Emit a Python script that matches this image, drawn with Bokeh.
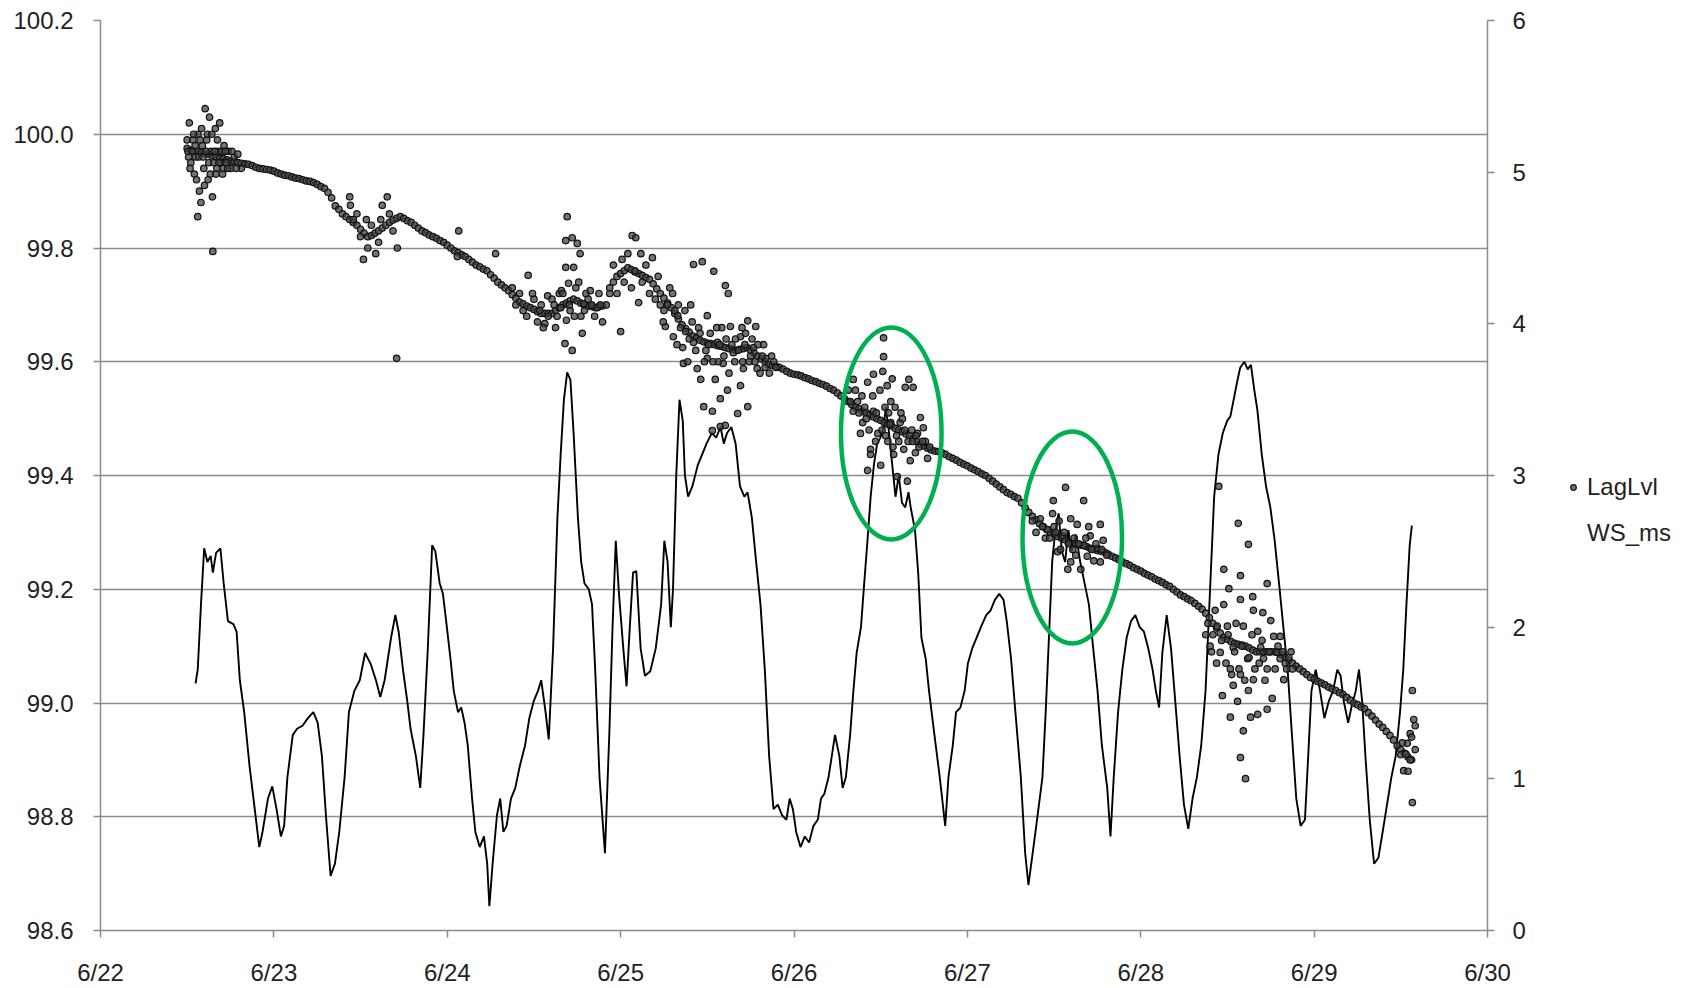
from bokeh.plotting import figure
from bokeh.layouts import row
from bokeh.models import (Range1d, LinearAxis, FixedTicker, Legend, LegendItem,
                          NumeralTickFormatter, ColumnDataSource)
from bokeh.embed import file_html
from bokeh.resources import INLINE

# ---------------- data ----------------
date_ticks = [22, 23, 24, 25, 26, 27, 28, 29, 30]
date_labels = ["6/22", "6/23", "6/24", "6/25", "6/26", "6/27", "6/28", "6/29", "6/30"]
lvl_ticks = [98.6, 98.8, 99.0, 99.2, 99.4, 99.6, 99.8, 100.0, 100.2]
ws_ticks = [0, 1, 2, 3, 4, 5, 6]

# LagLvl main band: half-hourly readings starting 6/22 12:00 (hours after 6/22 00:00)
lvl_start_hour = 12.0
lvl_step_hours = 0.5
lvl_trend = [
    99.975, 99.972, 99.970, 99.970, 99.968, 99.966, 99.965, 99.962,
    99.960, 99.958, 99.957, 99.955, 99.953, 99.952, 99.950, 99.949, 99.948,
    99.947, 99.945, 99.942, 99.940, 99.939, 99.938, 99.937, 99.935, 99.932,
    99.930, 99.928, 99.927, 99.925, 99.923, 99.922, 99.920, 99.918, 99.917,
    99.915, 99.912, 99.908, 99.905, 99.898, 99.888, 99.874, 99.868, 99.860,
    99.855, 99.850, 99.845, 99.840, 99.833, 99.826, 99.820, 99.822, 99.826,
    99.830, 99.835, 99.840, 99.845, 99.849, 99.852, 99.855, 99.852, 99.848,
    99.845, 99.840, 99.835, 99.830, 99.827, 99.823, 99.820, 99.817, 99.813,
    99.810, 99.805, 99.800, 99.795, 99.792, 99.788, 99.785, 99.780, 99.775,
    99.770, 99.767, 99.763, 99.760, 99.753, 99.747, 99.740, 99.735, 99.730,
    99.725, 99.718, 99.712, 99.705, 99.702, 99.698, 99.695, 99.692, 99.688,
    99.685, 99.685, 99.685, 99.685, 99.690, 99.695, 99.700, 99.703, 99.707,
    99.710, 99.707, 99.703, 99.700, 99.698, 99.697, 99.695, 99.697, 99.698,
    99.700, 99.720, 99.740, 99.750, 99.755, 99.760, 99.765, 99.762, 99.758,
    99.755, 99.752, 99.748, 99.745, 99.737, 99.728, 99.720, 99.712, 99.703,
    99.695, 99.685, 99.675, 99.665, 99.658, 99.652, 99.645, 99.642, 99.638,
    99.635, 99.633, 99.632, 99.630, 99.628, 99.627, 99.625, 99.623, 99.622,
    99.620, 99.622, 99.623, 99.625, 99.620, 99.615, 99.610, 99.605, 99.600,
    99.595, 99.593, 99.592, 99.590, 99.587, 99.583, 99.580, 99.578, 99.577,
    99.575, 99.572, 99.570, 99.567, 99.565, 99.562, 99.560, 99.557, 99.553,
    99.550, 99.545, 99.540, 99.535, 99.530, 99.525, 99.520, 99.517, 99.513,
    99.510, 99.507, 99.503, 99.500, 99.497, 99.493, 99.490, 99.487, 99.483,
    99.480, 99.477, 99.473, 99.470, 99.465, 99.460, 99.455, 99.452, 99.448,
    99.445, 99.443, 99.442, 99.440, 99.437, 99.433, 99.430, 99.427, 99.423,
    99.420, 99.417, 99.413, 99.410, 99.407, 99.403, 99.400, 99.395, 99.390,
    99.385, 99.380, 99.375, 99.370, 99.367, 99.363, 99.360, 99.352, 99.343,
    99.335, 99.328, 99.322, 99.315, 99.310, 99.305, 99.300, 99.297, 99.293,
    99.290, 99.287, 99.283, 99.280, 99.279, 99.278, 99.277, 99.275, 99.272,
    99.270, 99.268, 99.267, 99.265, 99.262, 99.258, 99.255, 99.252, 99.248,
    99.245, 99.242, 99.238, 99.235, 99.232, 99.228, 99.225, 99.222, 99.218,
    99.215, 99.212, 99.208, 99.205, 99.200, 99.195, 99.190, 99.187, 99.183,
    99.180, 99.175, 99.170, 99.165, 99.158, 99.150, 99.140, 99.132, 99.123,
    99.115, 99.112, 99.108, 99.105, 99.103, 99.102, 99.100, 99.097, 99.093,
    99.090, 99.090, 99.090, 99.090, 99.090, 99.090, 99.090, 99.085, 99.080,
    99.075, 99.070, 99.065, 99.060, 99.055, 99.050, 99.045, 99.042, 99.038,
    99.035, 99.032, 99.028, 99.025, 99.022, 99.018, 99.015, 99.010, 99.005,
    99.000, 98.997, 98.993, 98.990, 98.983, 98.977, 98.970, 98.963, 98.957,
    98.950, 98.943, 98.935, 98.925, 98.918, 98.912, 98.905, 98.900,
]

# LagLvl scattered readings during windy periods: hours after 6/22 00:00 and level
lvl_scatter_hours = [
    12.0, 12.2, 12.3, 12.5, 12.8, 13.0, 13.2, 13.46, 13.5, 13.7, 13.9, 14.0, 14.1, 14.3, 14.5, 14.7,
    14.9, 15.0, 15.1, 15.3, 15.5, 15.55, 15.7, 15.9, 16.1, 16.2, 16.3, 16.5, 16.7, 16.9, 17.1, 17.4,
    17.7, 18.0, 18.5, 19.0, 19.5,
    12.1, 12.4, 12.7, 12.9, 13.1, 13.3, 13.6, 13.8, 14.2, 14.4, 14.6, 14.8, 15.2, 15.4, 15.8, 16.0,
    16.4, 16.8, 17.0, 17.3, 17.6, 18.2, 18.8,
    34.5, 34.6, 35.0, 35.5, 36.0, 36.4, 36.8, 37.0, 37.5, 38.1, 38.5, 38.8, 39.0, 39.7, 40.0, 40.5,
    41.0, 41.1, 49.4, 49.6, 54.7,
    58.0, 59.0, 59.2, 60.0, 60.5, 61.0, 61.5, 61.9, 62.0, 62.5, 63.0, 63.5, 63.7, 63.8, 64.4, 64.4,
    64.5, 64.3, 64.6, 64.8, 65.0, 65.3, 65.3, 65.5, 65.8, 66.0, 66.4, 66.5, 66.7, 66.9, 67.2, 67.8,
    68.0, 68.8, 69.0, 69.5,
    57.0, 57.5, 58.5, 59.8, 60.8, 61.3, 62.8, 63.2, 64.0, 64.9, 65.6, 66.2, 67.0, 67.5, 68.4, 69.2,
    70.5, 71.0, 71.5, 72.0, 72.2, 72.5, 73.0, 73.5, 73.6, 74.0, 74.1, 74.5, 74.8, 75.0, 75.5, 76.0,
    76.4,
    77.5, 78.2, 79.2, 79.3, 79.9, 80.6, 80.7, 81.0, 81.7, 82.1, 82.1, 82.6, 83.1, 83.3, 83.5, 84.0,
    84.0, 84.7, 84.7, 84.9, 85.1, 85.4, 85.8, 85.8, 86.2, 86.5, 86.5, 86.8, 86.9, 87.2, 87.6, 88.2,
    88.6, 88.6, 89.0, 89.6, 89.6, 90.4, 90.7, 90.9, 92.1,
    78.0, 78.8, 80.0, 81.3, 82.8, 83.8, 84.4, 85.5, 86.0, 87.0, 87.9, 88.9, 89.3, 90.0, 91.3, 91.8,
    92.6, 93.2,
    76.8, 77.2, 77.9, 78.5, 79.5, 79.8, 80.3, 80.9, 81.5, 81.9, 82.4, 83.0, 83.6, 84.2, 84.8, 85.3,
    85.7, 86.3, 86.6, 87.4, 87.8, 88.3, 88.8, 89.2, 89.8, 90.2, 90.6, 91.0, 91.6, 92.0, 92.9, 93.5,
    103.5, 104.2, 104.2, 104.8, 105.2, 105.5, 106.2, 106.2, 106.6, 106.6, 107.0, 107.0, 107.6, 108.0,
    108.3, 108.4, 108.4, 108.9, 109.4, 109.4, 109.8, 110.3, 110.7, 111.2, 111.4, 111.7, 111.9, 112.1,
    112.5, 113.1, 113.5, 113.9,
    105.8, 107.3, 108.7, 109.1, 110.0, 110.5, 111.0, 112.8, 114.2, 114.8, 109.6, 112.3,
    103.8, 104.5, 105.0, 105.4, 106.0, 106.4, 106.9, 107.4, 107.9, 108.2, 108.6, 109.0, 109.3, 109.7,
    110.2, 110.8, 111.3, 111.8, 112.4, 112.9, 113.3, 113.8, 114.5,
    130.1, 131.1, 131.8, 131.9, 132.5, 133.2, 133.6, 133.9, 134.3, 134.3, 135.2, 135.7, 136.1, 136.1,
    136.6, 137.0, 138.0, 138.4, 138.4, 138.8,
    129.5, 130.8, 132.0, 132.9, 134.8, 135.0, 137.5, 136.8,
    129.0, 130.4, 131.4, 132.2, 132.7, 133.4, 134.0, 134.6, 135.4, 136.4, 137.2, 137.8, 138.6, 139.3,
    154.3, 154.6, 154.8, 155.0, 155.3, 155.5, 155.5, 156.0, 156.2, 156.4, 156.4, 156.8, 156.8, 157.4,
    157.5, 157.8, 157.8, 157.8, 157.8, 158.2, 158.2, 158.5, 158.8, 158.9, 158.9, 159.2, 159.5, 159.6,
    159.6, 160.2, 160.2, 160.6, 160.9, 161.0, 161.5, 161.5, 161.5, 162.0, 162.2, 162.4, 162.9, 163.3,
    163.3, 163.8,
    153.0, 153.6, 164.2, 164.8,
    153.3, 153.8, 154.0, 154.5, 155.2, 155.8, 156.1, 156.6, 157.0, 157.2, 157.6, 158.0, 158.4, 159.0,
    159.4, 159.8, 160.4, 160.8, 161.2, 161.8, 162.6, 163.0, 163.6, 164.0, 164.5, 165.0,
    180.0, 180.4, 180.9, 181.3, 181.3, 181.6, 181.6, 181.8, 182.0, 182.0,
    180.2, 180.7, 181.0, 181.5,
]
lvl_scatter_values = [
    99.99, 99.96, 100.02, 99.95, 99.99, 99.93, 99.96, 99.855, 100.00, 99.90, 99.88, 100.01, 99.98, 99.94, 100.045, 99.99,
    99.92, 99.95, 100.03, 99.97, 99.89, 99.794, 99.95, 100.01, 99.94, 99.99, 99.97, 100.02, 99.95, 99.93, 99.98, 99.95,
    99.97, 99.94, 99.96, 99.965, 99.94,
    99.97, 99.94, 99.97, 100.00, 99.98, 99.92, 99.96, 99.99, 99.96, 99.91, 99.97, 100.00, 99.93, 100.00, 99.97, 99.93,
    99.95, 99.97, 99.94, 99.97, 99.94, 99.97, 99.94,
    99.89, 99.875, 99.85, 99.86, 99.82, 99.78, 99.85, 99.80, 99.84, 99.79, 99.81, 99.85, 99.875, 99.89, 99.86, 99.83,
    99.606, 99.80, 99.785, 99.83, 99.79,
    99.72, 99.68, 99.752, 99.71, 99.67, 99.70, 99.667, 99.716, 99.68, 99.71, 99.66, 99.72, 99.695, 99.725, 99.813, 99.766,
    99.673, 99.632, 99.855, 99.738, 99.69, 99.818, 99.62, 99.766, 99.73, 99.808, 99.79, 99.68, 99.65, 99.702, 99.72, 99.725,
    99.70, 99.695, 99.72, 99.67,
    99.73, 99.70, 99.69, 99.72, 99.69, 99.66, 99.70, 99.68, 99.72, 99.70, 99.68, 99.74, 99.69, 99.71, 99.68, 99.70,
    99.73, 99.77, 99.72, 99.653, 99.78, 99.74, 99.79, 99.73, 99.822, 99.76, 99.818, 99.704, 99.79, 99.74, 99.77, 99.72,
    99.783,
    99.70, 99.662, 99.72, 99.644, 99.681, 99.625, 99.597, 99.653, 99.70, 99.771, 99.634, 99.588, 99.569, 99.776, 99.521, 99.681,
    99.606, 99.513, 99.479, 99.759, 99.569, 99.634, 99.486, 99.535, 99.597, 99.734, 99.488, 99.55, 99.72, 99.662, 99.616, 99.509,
    99.558, 99.644, 99.588, 99.672, 99.521, 99.625, 99.662, 99.588, 99.606,
    99.69, 99.73, 99.70, 99.60, 99.66, 99.62, 99.65, 99.60, 99.66, 99.58, 99.64, 99.60, 99.65, 99.61, 99.58, 99.63,
    99.58, 99.60,
    99.71, 99.75, 99.67, 99.70, 99.69, 99.63, 99.66, 99.69, 99.64, 99.67, 99.62, 99.65, 99.60, 99.63, 99.60, 99.66,
    99.63, 99.61, 99.64, 99.63, 99.60, 99.62, 99.66, 99.63, 99.60, 99.64, 99.60, 99.63, 99.61, 99.59, 99.61, 99.59,
    99.55, 99.569, 99.513, 99.53, 99.474, 99.493, 99.564, 99.409, 99.446, 99.437, 99.578, 99.513, 99.474, 99.418,
    99.583, 99.642, 99.609, 99.558, 99.53, 99.493, 99.437, 99.398, 99.493, 99.446, 99.555, 99.39, 99.569, 99.426,
    99.555, 99.474, 99.502, 99.484,
    99.52, 99.46, 99.47, 99.51, 99.52, 99.46, 99.50, 99.44, 99.46, 99.45, 99.57, 99.48,
    99.53, 99.55, 99.51, 99.54, 99.50, 99.48, 99.54, 99.51, 99.55, 99.48, 99.52, 99.46, 99.49, 99.45,
    99.47, 99.51, 99.48, 99.46, 99.46, 99.47, 99.45, 99.46, 99.43,
    99.324, 99.305, 99.333, 99.356, 99.266, 99.294, 99.379, 99.235, 99.324, 99.248, 99.314, 99.235, 99.356, 99.277,
    99.258, 99.294, 99.272, 99.314, 99.248, 99.286,
    99.30, 99.29, 99.31, 99.27, 99.29, 99.26, 99.25, 99.31,
    99.32, 99.31, 99.29, 99.30, 99.32, 99.30, 99.28, 99.27, 99.28, 99.29, 99.27, 99.28, 99.27, 99.26,
    99.163, 99.135, 99.381, 99.089, 99.013, 99.235, 99.173, 99.135, 99.201, 98.975, 99.06, 99.098, 99.031, 99.003,
    99.316, 99.224, 98.904, 99.05, 99.182, 98.951, 99.135, 98.867, 99.078, 99.279, 99.022, 98.975, 99.187, 99.041,
    99.163, 98.98, 99.126, 99.098, 99.159, 99.078, 99.21, 98.989, 99.06, 99.145, 99.008, 99.117, 99.089, 99.078,
    99.117, 99.041,
    99.12, 99.10, 99.06, 99.09,
    99.14, 99.09, 99.12, 99.07, 99.11, 99.07, 99.12, 99.05, 99.09, 99.14, 99.06, 99.10, 99.04, 99.08,
    99.12, 99.06, 99.07, 99.11, 99.04, 99.09, 99.06, 99.10, 99.09, 99.07, 99.08, 99.06,
    98.909, 98.881, 98.929, 98.90, 98.946, 99.022, 98.825, 98.971, 98.918, 98.96,
    98.93, 98.91, 98.88, 98.94,
]

# WS_ms wind speed: hours after 6/22 00:00 and m/s
ws_hours = [
    13.16, 13.46, 13.91, 14.35, 14.80, 15.25, 15.55, 16.00, 16.60, 17.05,
    17.64, 18.39, 18.84, 19.29, 19.89, 20.64, 21.53, 21.98, 22.43, 23.18,
    23.78, 24.37, 24.97, 25.42, 25.87, 26.62, 27.21, 27.96, 28.71, 29.46,
    30.06, 30.65, 31.25, 31.85, 32.45, 33.05, 33.79, 34.39, 35.14, 35.89,
    36.63, 37.38, 38.13, 38.73, 39.33, 40.22, 40.82, 41.27, 41.87, 42.47,
    42.92, 43.66, 44.26, 44.71, 45.31, 45.91, 46.35, 46.95, 47.40, 47.85,
    48.45, 48.90, 49.49, 49.94, 50.39, 50.84, 51.44, 51.89, 52.49, 53.08,
    53.53, 53.83, 54.28, 54.88, 55.33, 55.77, 56.22, 56.82, 57.42, 58.02,
    58.77, 59.36, 59.96, 60.56, 61.01, 61.61, 62.05, 62.65, 63.25, 63.70,
    64.15, 64.60, 65.05, 65.49, 66.09, 66.54, 66.99, 67.59, 68.04, 68.48,
    69.08, 69.83, 70.43, 70.88, 71.33, 71.77, 72.37, 72.82, 73.27, 73.72,
    74.17, 74.77, 75.36, 76.11, 76.86, 77.61, 78.05, 78.50, 78.95, 79.25,
    79.70, 80.15, 80.60, 80.90, 81.34, 81.94, 82.69, 83.29, 83.89, 84.63,
    85.23, 85.83, 86.28, 86.73, 87.33, 87.92, 88.52, 89.12, 89.57, 90.17,
    90.76, 91.36, 91.96, 92.56, 93.16, 93.76, 94.35, 94.95, 95.40, 95.85,
    96.30, 96.90, 97.49, 98.09, 98.69, 99.29, 99.74, 100.19, 100.78, 101.23,
    101.68, 102.28, 102.73, 103.18, 103.77, 104.22, 104.67, 105.27, 105.72, 106.17,
    106.61, 107.06, 107.51, 107.96, 108.41, 108.71, 109.16, 109.60, 110.05, 110.50,
    110.95, 111.40, 111.85, 112.15, 112.75, 113.19, 113.64, 114.24, 114.69, 115.44,
    116.18, 116.93, 117.38, 117.98, 118.43, 119.03, 119.62, 120.07, 120.67, 121.27,
    121.87, 122.61, 123.21, 123.81, 124.41, 125.01, 125.45, 126.05, 126.65, 127.40,
    128.00, 128.45, 129.04, 129.64, 130.39, 130.84, 131.29, 131.74, 132.18, 132.63,
    133.08, 133.53, 133.98, 134.43, 135.03, 135.62, 136.22, 136.82, 137.42, 138.02,
    138.62, 139.36, 139.81, 140.26, 140.86, 141.45, 142.05, 142.65, 143.25, 143.85,
    144.44, 145.04, 145.64, 146.09, 146.54, 146.99, 147.59, 148.19, 148.78, 149.38,
    149.98, 150.58, 151.17, 151.77, 152.37, 152.97, 153.57, 154.16, 154.76, 155.36,
    155.96, 156.41, 156.86, 157.31, 157.76, 158.35, 158.80, 159.25, 159.70, 160.15,
    160.75, 161.34, 161.94, 162.54, 163.14, 163.74, 164.33, 164.93, 165.53, 166.13,
    166.73, 167.18, 167.63, 168.22, 168.82, 169.42, 170.02, 170.62, 171.21, 171.66,
    172.11, 172.71, 173.16, 173.76, 174.21, 174.65, 175.10, 175.70, 176.30, 176.90,
    177.49, 178.09, 178.69, 179.29, 179.89, 180.34, 180.78, 181.23, 181.53,
]
ws_values = [
    1.63, 1.72, 2.15, 2.52, 2.43, 2.47, 2.36, 2.49, 2.52, 2.29,
    2.04, 2.02, 1.97, 1.65, 1.44, 1.08, 0.73, 0.55, 0.65, 0.87,
    0.95, 0.80, 0.62, 0.69, 1.01, 1.29, 1.33, 1.35, 1.40, 1.44,
    1.37, 1.15, 0.73, 0.36, 0.44, 0.65, 1.01, 1.44, 1.58, 1.65,
    1.83, 1.76, 1.65, 1.54, 1.65, 1.93, 2.08, 1.97, 1.72, 1.51,
    1.33, 1.15, 0.94, 1.29, 1.86, 2.54, 2.50, 2.29, 2.22, 2.04,
    1.79, 1.58, 1.44, 1.47, 1.37, 1.22, 0.87, 0.65, 0.55, 0.62,
    0.44, 0.16, 0.44, 0.76, 0.87, 0.65, 0.69, 0.87, 0.94, 1.08,
    1.22, 1.40, 1.51, 1.58, 1.65, 1.44, 1.26, 1.86, 2.72, 3.14,
    3.50, 3.68, 3.63, 3.28, 2.72, 2.43, 2.29, 2.25, 2.15, 1.72,
    1.01, 0.51, 1.29, 2.00, 2.57, 2.22, 1.86, 1.61, 2.00, 2.36,
    2.37, 1.86, 1.68, 1.71, 1.86, 2.15, 2.57, 2.43, 2.00, 2.25,
    3.00, 3.50, 3.36, 3.00, 2.86, 2.93, 3.07, 3.14, 3.21, 3.28,
    3.25, 3.32, 3.21, 3.28, 3.32, 3.21, 2.93, 2.86, 2.89, 2.72,
    2.43, 2.15, 1.72, 1.15, 0.80, 0.83, 0.76, 0.73, 0.87, 0.80,
    0.65, 0.55, 0.62, 0.58, 0.69, 0.73, 0.87, 0.90, 1.01, 1.15,
    1.29, 1.15, 0.94, 1.01, 1.29, 1.58, 1.83, 2.00, 2.29, 2.57,
    2.86, 3.07, 3.21, 3.25, 3.32, 3.45, 3.28, 3.07, 2.86, 3.00,
    2.82, 2.79, 2.89, 2.79, 2.64, 2.36, 1.93, 1.79, 1.58, 1.29,
    1.01, 0.69, 1.01, 1.22, 1.44, 1.47, 1.58, 1.76, 1.86, 1.93,
    2.00, 2.08, 2.11, 2.18, 2.22, 2.18, 2.04, 1.79, 1.44, 1.01,
    0.51, 0.30, 0.51, 0.73, 1.01, 1.44, 1.93, 2.43, 2.64, 2.75,
    2.50, 2.43, 2.64, 2.50, 2.61, 2.43, 2.29, 2.15, 1.86, 1.58,
    1.22, 0.94, 0.62, 1.01, 1.44, 1.72, 1.93, 2.04, 2.08, 2.00,
    1.97, 1.86, 1.72, 1.58, 1.47, 1.83, 2.08, 1.86, 1.51, 1.15,
    0.83, 0.67, 0.87, 1.01, 1.22, 1.58, 2.22, 2.86, 3.14, 3.28,
    3.36, 3.39, 3.50, 3.61, 3.71, 3.75, 3.70, 3.73, 3.57, 3.43,
    3.14, 2.93, 2.79, 2.57, 2.29, 2.00, 1.72, 1.29, 0.87, 0.69,
    0.73, 1.15, 1.58, 1.72, 1.58, 1.40, 1.51, 1.58, 1.72, 1.68,
    1.51, 1.37, 1.47, 1.58, 1.72, 1.51, 1.15, 0.73, 0.44, 0.48,
    0.65, 0.83, 1.01, 1.15, 1.44, 1.72, 2.15, 2.54, 2.67,
]

# green highlight ellipses (annotation): centre day, centre level, width (days), height (level units)
highlight_x = [26.561, 27.605]
highlight_y = [99.474, 99.291]
highlight_w = [0.580, 0.574]
highlight_h = [0.3727, 0.3727]

# ---------------- derived ----------------
trend_days = [22 + (lvl_start_hour + i * lvl_step_hours) / 24.0 for i in range(len(lvl_trend))]
scatter_days = [22 + h / 24.0 for h in lvl_scatter_hours]
lvl_days = trend_days + scatter_days
lvl_vals = lvl_trend + lvl_scatter_values
ws_days = [22 + h / 24.0 for h in ws_hours]

FONT = "Liberation Sans"
TXT = "#222222"
GRID = "#8c8c8c"
MARK = dict(marker="circle", size=6.5, fill_color="#444444", fill_alpha=0.75,
            line_color="#111111", line_width=1.2)

MAIN_W = 1560
p = figure(width=MAIN_W, height=988, output_backend="svg", toolbar_location=None,
           x_range=Range1d(22, 30), y_range=Range1d(98.6, 100.2),
           min_border_left=100, min_border_right=MAIN_W - 1487, min_border_top=20,
           min_border_bottom=58)
p.outline_line_color = None
p.background_fill_color = "white"
p.border_fill_color = "white"
p.extra_y_ranges = {"ws": Range1d(0, 6)}

xa = p.xaxis[0]
xa.ticker = FixedTicker(ticks=date_ticks)
xa.major_label_overrides = {t: l for t, l in zip(date_ticks, date_labels)}
ya = p.yaxis[0]
ya.ticker = FixedTicker(ticks=lvl_ticks)
ya.formatter = NumeralTickFormatter(format="0.0")
ra = LinearAxis(y_range_name="ws", ticker=FixedTicker(ticks=ws_ticks))
p.add_layout(ra, "right")

for ax, stand in ((xa, 21), (ya, 20), (ra, 18)):
    ax.axis_line_color = GRID
    ax.axis_line_width = 1.5
    ax.major_tick_line_color = GRID
    ax.major_tick_line_width = 1.5
    ax.major_tick_out = 7
    ax.major_tick_in = 0
    ax.minor_tick_line_color = None
    ax.major_label_text_font = FONT
    ax.major_label_text_font_size = "24px"
    ax.major_label_text_color = TXT
    ax.major_label_standoff = stand

p.xgrid.visible = False
p.ygrid.ticker = FixedTicker(ticks=lvl_ticks)
p.ygrid.grid_line_color = GRID
p.ygrid.grid_line_width = 1.5

p.line(ws_days, ws_values, y_range_name="ws", line_color="black", line_width=1.9)

src = ColumnDataSource(dict(x=lvl_days, y=lvl_vals))
p.scatter("x", "y", source=src, **MARK)

p.ellipse(x=highlight_x, y=highlight_y, width=highlight_w, height=highlight_h,
          fill_color=None, line_color="#00b050", line_width=4.5)

# ---------------- legend panel (right of the chart) ----------------
LEG_W = 1694 - MAIN_W
lf = figure(width=LEG_W, height=988, output_backend="svg", toolbar_location=None,
            x_range=Range1d(0, 1), y_range=Range1d(0, 1),
            x_axis_type=None, y_axis_type=None,
            min_border_left=0, min_border_right=0, min_border_top=0, min_border_bottom=0)
lf.outline_line_color = None
lf.grid.visible = False
lf.background_fill_color = "white"
lf.border_fill_color = "white"
# legend sample renderers sit outside the visible range; only their legend glyphs show
leg_lvl = lf.scatter(x=[-5], y=[-5], **dict(MARK, size=4.5))
leg_ws = lf.line(x=[-5, -4], y=[-5, -5], line_alpha=0)
legend = Legend(items=[LegendItem(label="LagLvl", renderers=[leg_lvl]),
                       LegendItem(label="WS_ms", renderers=[leg_ws])],
                location=(6, 383), orientation="vertical",
                border_line_color=None, background_fill_alpha=0,
                padding=0, margin=0, spacing=18, label_height=24,
                glyph_height=24, glyph_width=14, label_standoff=7,
                label_text_font=FONT, label_text_font_size="24px",
                label_text_color=TXT)
lf.add_layout(legend, "center")

layout = row(p, lf, spacing=0)
open("out.html", "w").write(file_html(layout, INLINE))
